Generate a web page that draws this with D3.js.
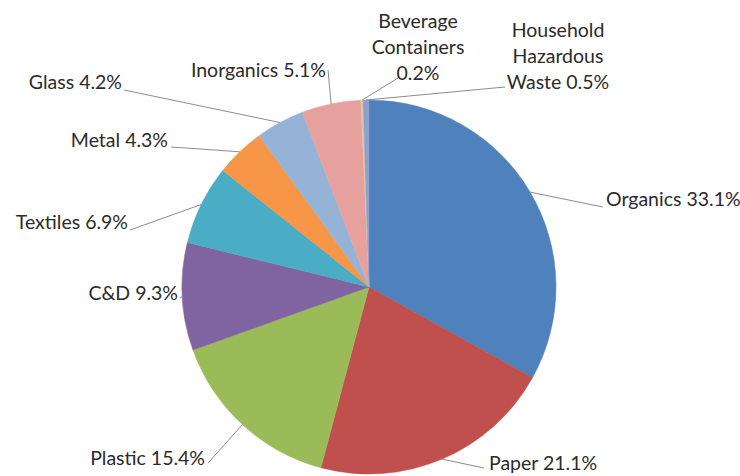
<!DOCTYPE html>
<html>
<head>
<meta charset="utf-8">
<script src="https://cdn.jsdelivr.net/npm/d3@7"></script>
<style>
  html, body { margin: 0; padding: 0; background: #ffffff; }
  svg { display: block; }
  text { font-family: Lato, "Open Sans", sans-serif; fill: #2b2b2b; }
</style>
</head>
<body>
<svg id="chart" width="740" height="476"></svg>
<script>
// ---- data ----
const categories = ["Organics", "Paper", "Plastic", "C&D", "Textiles", "Metal", "Glass", "Inorganics", "Beverage Containers", "Household Hazardous Waste"];
const values = [33.1, 21.1, 15.4, 9.3, 6.9, 4.3, 4.2, 5.1, 0.2, 0.5];
const labelLines = [
  ["Organics 33.1%"],
  ["Paper 21.1%"],
  ["Plastic 15.4%"],
  ["C&D 9.3%"],
  ["Textiles 6.9%"],
  ["Metal 4.3%"],
  ["Glass 4.2%"],
  ["Inorganics 5.1%"],
  ["Beverage", "Containers", "0.2%"],
  ["Household", "Hazardous", "Waste 0.5%"]
];
const colors = ["#4F81BD", "#C0504D", "#9BBB59", "#8064A2", "#4BACC6", "#F79646", "#95B3D7", "#E6A09E", "#D8C9A3", "#8F9FD0"];

// ---- label layout (text anchor x, first baseline y, anchor, leader end x,y) ----
const labelLayout = [
  { x: 606, y: 206, anchor: "start",  lx: 603, ly: 207 },
  { x: 489, y: 470, anchor: "start",  lx: 484, ly: 468 },
  { x: 205, y: 465, anchor: "end",    lx: 208, ly: 463 },
  { x: 178, y: 300, anchor: "end",    lx: 180, ly: 298 },
  { x: 128, y: 229, anchor: "end",    lx: 130, ly: 230 },
  { x: 168, y: 147, anchor: "end",    lx: 171, ly: 147 },
  { x: 122, y: 89,  anchor: "end",    lx: 124, ly: 90 },
  { x: 326, y: 77,  anchor: "end",    lx: 328, ly: 70 },
  { x: 418, y: 28,  anchor: "middle", lx: 398, ly: 78 },
  { x: 558, y: 37,  anchor: "middle", lx: 505, ly: 87 }
];

const cx = 369, cy = 287, R = 187;
const fontSize = 19.5, lineGap = 26;

const svg = d3.select("#chart");
const g = svg.append("g").attr("transform", `translate(${cx},${cy})`);

const pie = d3.pie().sort(null).value(d => d.value);
const data = categories.map((c, i) => ({ name: c, value: values[i], i }));
const arcs = pie(data);

const arc = d3.arc().innerRadius(0).outerRadius(R);
const edge = d3.arc().innerRadius(R).outerRadius(R);
const color = d3.scaleOrdinal().domain(categories).range(colors);

g.selectAll("path.slice")
  .data(arcs)
  .enter().append("path")
  .attr("class", "slice")
  .attr("d", arc)
  .attr("fill", d => color(d.data.name))
  .attr("stroke", d => color(d.data.name))
  .attr("stroke-width", 0.5);

// leader lines
svg.append("g").selectAll("line")
  .data(arcs)
  .enter().append("line")
  .attr("x1", d => cx + edge.centroid(d)[0])
  .attr("y1", d => cy + edge.centroid(d)[1])
  .attr("x2", d => labelLayout[d.index].lx)
  .attr("y2", d => labelLayout[d.index].ly)
  .attr("stroke", "#8c8c8c")
  .attr("stroke-width", 1);

// labels
const lab = svg.append("g").selectAll("text")
  .data(arcs)
  .enter().append("text")
  .attr("font-size", fontSize)
  .attr("text-anchor", d => labelLayout[d.index].anchor)
  .attr("x", d => labelLayout[d.index].x)
  .attr("y", d => labelLayout[d.index].y);

lab.each(function(d) {
  const t = d3.select(this);
  const L = labelLayout[d.index];
  labelLines[d.index].forEach((s, k) => {
    t.append("tspan").attr("x", L.x).attr("y", L.y + k * lineGap).text(s);
  });
});
</script>
</body>
</html>
